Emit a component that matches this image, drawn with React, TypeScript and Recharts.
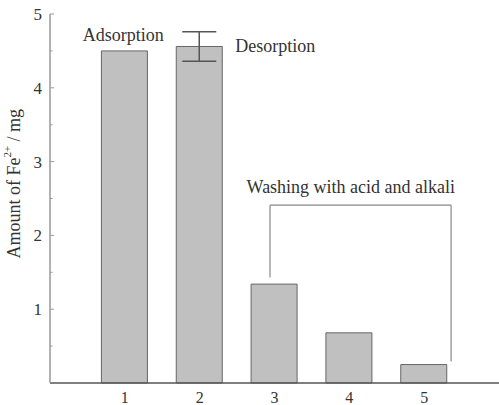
import React from 'react';
import {
  ComposedChart,
  Bar,
  XAxis,
  YAxis,
  ErrorBar,
  ReferenceLine,
  ReferenceDot,
  Label,
} from 'recharts';

// Cycle index (1 = adsorption, 2 = desorption, 3-5 = acid/alkali washing)
const cycles = [1, 2, 3, 4, 5];
// Amount of Fe2+ in mg for each cycle
const amounts = [4.5, 4.56, 1.34, 0.68, 0.25];
// Standard deviation (only measured for the desorption step)
const deviations: (number | undefined)[] = [undefined, 0.2, undefined, undefined, undefined];

const yTicks = [0.5, 1, 1.5, 2, 2.5, 3, 3.5, 4, 4.5, 5];
const xTicks = [1, 2, 3, 4, 5];

const data = cycles.map((c, i) => ({ cycle: c, amount: amounts[i], sd: deviations[i] }));

const FONT = '"Liberation Serif", "Times New Roman", serif';
const TEXT = '#333';

const YTick = (props: any) => {
  const { x, y, payload } = props;
  const major = Number.isInteger(payload.value);
  const ax = x + 8;
  return (
    <g>
      <line x1={ax} x2={ax + (major ? 4 : 2.5)} y1={y} y2={y} stroke="#999" strokeWidth={1} />
      {major && (
        <text x={ax - 8} y={y} dy={6} textAnchor="end" fontFamily={FONT} fontSize={17} fill={TEXT}>
          {payload.value}
        </text>
      )}
    </g>
  );
};

const YTitle = (props: any) => {
  const vb = props.viewBox || {};
  const cx = 14;
  const cy = (vb.y ?? 0) + (vb.height ?? 0) * 0.46;
  return (
    <text
      transform={`translate(${cx}, ${cy}) rotate(-90)`}
      textAnchor="middle"
      dominantBaseline="central"
      fontFamily={FONT}
      fontSize={18}
      fill={TEXT}
    >
      <tspan>Amount of Fe</tspan>
      <tspan fontSize={11} dy={-7}>2+</tspan>
      <tspan dy={7}> / mg</tspan>
    </text>
  );
};

// Annotation text centred on a reference point
const noteContent = (value: string) => (props: any) => {
  const vb = props.viewBox || {};
  const cx = (vb.x ?? 0) + (vb.width ?? 0) / 2;
  const cy = (vb.y ?? 0) + (vb.height ?? 0) / 2;
  return (
    <text
      x={cx}
      y={cy}
      textAnchor="middle"
      dominantBaseline="central"
      fontFamily={FONT}
      fontSize={18}
      fill={TEXT}
    >
      {value}
    </text>
  );
};

export default function App() {
  return (
    <div style={{ position: 'absolute', left: 0, top: 0 }}>
      <ComposedChart
        width={499}
        height={405}
        data={data}
        margin={{ top: 14, right: 0, bottom: 0, left: 0 }}
      >
        <XAxis
          dataKey="cycle"
          type="number"
          domain={[0, 6]}
          ticks={xTicks}
          height={22}
          tickLine={false}
          axisLine={{ stroke: '#555', strokeWidth: 1.5 }}
          tick={{ fontFamily: FONT, fontSize: 16, fill: TEXT }}
          tickMargin={3}
        />
        <YAxis
          type="number"
          domain={[0, 5]}
          ticks={yTicks}
          interval={0}
          width={50}
          tickLine={false}
          axisLine={{ stroke: '#999', strokeWidth: 1.5 }}
          tick={<YTick />}
        >
          <Label content={<YTitle />} />
        </YAxis>
        <Bar
          dataKey="amount"
          barSize={46}
          fill="#c0c0c0"
          stroke="#666"
          strokeWidth={1}
          isAnimationActive={false}
        >
          <ErrorBar dataKey="sd" width={17} stroke="#555" strokeWidth={1.5} direction="y" />
        </Bar>
        {/* bracket grouping the washing cycles */}
        <ReferenceLine
          segment={[{ x: 2.94, y: 2.41 }, { x: 5.36, y: 2.41 }]}
          stroke="#888"
          strokeWidth={1.2}
        />
        <ReferenceLine
          segment={[{ x: 2.94, y: 2.41 }, { x: 2.94, y: 1.43 }]}
          stroke="#888"
          strokeWidth={1.2}
        />
        <ReferenceLine
          segment={[{ x: 5.36, y: 2.41 }, { x: 5.36, y: 0.29 }]}
          stroke="#888"
          strokeWidth={1.2}
        />
        <ReferenceDot x={0.98} y={4.71} r={0} fill="none" stroke="none">
          <Label content={noteContent('Adsorption')} />
        </ReferenceDot>
        <ReferenceDot x={3.01} y={4.56} r={0} fill="none" stroke="none">
          <Label content={noteContent('Desorption')} />
        </ReferenceDot>
        <ReferenceDot x={4.02} y={2.66} r={0} fill="none" stroke="none">
          <Label content={noteContent('Washing with acid and alkali')} />
        </ReferenceDot>
      </ComposedChart>
    </div>
  );
}
